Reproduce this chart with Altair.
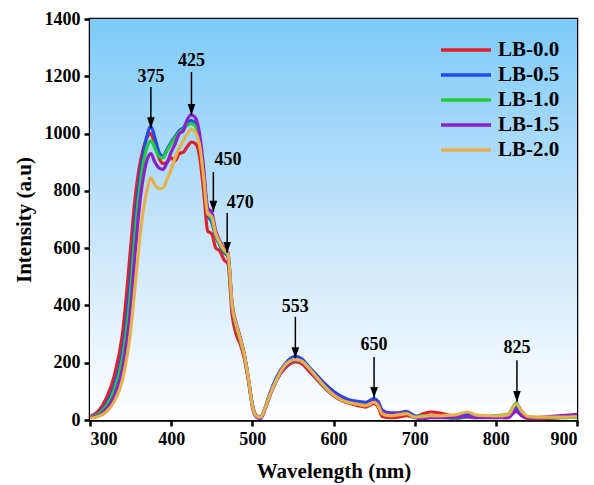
import altair as alt
import pandas as pd

wavelength = [300, 310, 320, 330, 340, 350, 355, 360, 365, 370, 375, 380, 385, 390, 395,
              400, 405, 410, 415, 420, 425, 430, 435, 440, 445, 450, 455, 460, 465, 470,
              475, 480, 485, 490, 495, 500, 505, 510, 515, 520, 530, 540, 553, 560, 570,
              580, 590, 600, 610, 620, 630, 640, 650, 655, 660, 670, 680, 690, 700, 710,
              720, 730, 740, 750, 765, 775, 790, 800, 815, 825, 832, 840, 860, 880, 900]

lb_00 = [12, 30, 75, 155, 300, 600, 760, 870, 940, 985, 1000, 960, 915, 895, 900,
         915, 905, 930, 935, 955, 970, 965, 920, 800, 660, 650, 600, 590, 560, 545,
         370, 300, 265, 215, 140, 55, 15, 12, 35, 75, 140, 180, 203, 198, 170,
         140, 110, 85, 68, 58, 50, 45, 58, 45, 12, 8, 10, 15, 10, 22,
         28, 25, 18, 15, 20, 15, 10, 10, 8, 35, 14, 5, 5, 8, 10]

lb_05 = [10, 22, 55, 120, 240, 500, 680, 820, 920, 990, 1025, 985, 935, 920, 945,
         970, 990, 1010, 1020, 1040, 1045, 1035, 980, 860, 720, 690, 640, 610, 585, 570,
         400, 330, 285, 230, 150, 55, 15, 10, 38, 80, 150, 195, 222, 215, 185,
         155, 125, 100, 82, 70, 65, 62, 75, 65, 35, 25, 25, 30, 15, 12,
         15, 12, 12, 15, 22, 14, 10, 10, 10, 45, 20, 8, 8, 10, 12]

lb_10 = [10, 20, 48, 105, 215, 450, 630, 780, 885, 950, 975, 950, 920, 915, 940,
         965, 985, 1005, 1015, 1030, 1035, 1025, 975, 860, 725, 700, 645, 615, 590, 575,
         400, 330, 280, 225, 145, 50, 13, 10, 35, 75, 140, 185, 208, 205, 178,
         145, 112, 88, 70, 60, 55, 52, 65, 55, 25, 18, 20, 25, 8, 15,
         10, 10, 8, 5, 10, 8, 12, 15, 20, 58, 30, 10, 8, 8, 10]

lb_15 = [8, 15, 38, 85, 180, 390, 560, 720, 835, 905, 930, 900, 880, 875, 900,
         935, 965, 1000, 1010, 1050, 1065, 1055, 1000, 880, 740, 725, 660, 625, 600, 585,
         410, 340, 290, 230, 145, 45, 10, 5, 32, 72, 140, 185, 210, 205, 178,
         145, 115, 90, 72, 62, 55, 52, 65, 55, 28, 20, 22, 25, 8, 5,
         8, 8, 8, 8, 12, 8, 8, 8, 8, 30, 15, 8, 10, 15, 20]

lb_20 = [6, 12, 28, 65, 140, 310, 450, 600, 720, 800, 845, 820, 808, 810, 840,
         875, 915, 950, 975, 1000, 1015, 1005, 960, 850, 720, 710, 650, 620, 595, 580,
         405, 335, 285, 228, 148, 50, 14, 10, 35, 75, 142, 190, 212, 207, 180,
         147, 115, 88, 70, 60, 55, 50, 62, 50, 22, 15, 18, 22, 10, 12,
         15, 14, 16, 18, 28, 18, 15, 14, 18, 55, 30, 12, 10, 10, 12]

series_names = ["LB-0.0", "LB-0.5", "LB-1.0", "LB-1.5", "LB-2.0"]
series_values = [lb_00, lb_05, lb_10, lb_15, lb_20]
series_colors = ["#e0202a", "#2448f0", "#22cc3a", "#8a22cc", "#e6b04a"]

ann_text = ["375", "425", "450", "470", "553", "650", "825"]
ann_x = [375, 425, 452, 469, 553, 650, 826]
ann_label_x = [375, 425, 470, 485, 553, 650, 826]
ann_label_y = [1196, 1252, 908, 758, 396, 262, 250]
ann_start_y = [1163, 1215, 866, 723, 360, 220, 209]
ann_tip_y = [1019, 1065, 727, 583, 216, 77, 63]

rows = []
for name, vals in zip(series_names, series_values):
    for w, v in zip(wavelength, vals):
        rows.append({"Wavelength": w, "Intensity": v, "Sample": name})
df = pd.DataFrame(rows)

ann = pd.DataFrame({"text": ann_text, "x": ann_x, "lx": ann_label_x, "ly": ann_label_y,
                    "y1": ann_start_y, "y2": ann_tip_y})

W, H = 487, 401
FONT = "Liberation Serif"

xscale = alt.Scale(domain=[300, 900], nice=False)
yscale = alt.Scale(domain=[0, 1400], nice=False)

bg = alt.Chart(pd.DataFrame({"a": [0]})).mark_rect(
    color=alt.Gradient(
        gradient="linear",
        stops=[alt.GradientStop(color="#7dcaf9", offset=0),
               alt.GradientStop(color="#c4e4fb", offset=0.5),
               alt.GradientStop(color="#ffffff", offset=1)],
        x1=0, x2=0, y1=0, y2=1),
).encode(x=alt.value(0), x2=alt.value(W), y=alt.value(0), y2=alt.value(H))

lines = alt.Chart(df).mark_line(strokeWidth=3.2, interpolate="monotone").encode(
    x=alt.X("Wavelength:Q", scale=xscale,
            axis=alt.Axis(values=[300, 400, 500, 600, 700, 800, 900], format="d",
                          title="Wavelength (nm)")),
    y=alt.Y("Intensity:Q", scale=yscale,
            axis=alt.Axis(values=[0, 200, 400, 600, 800, 1000, 1200, 1400], format="d",
                          title="Intensity (a.u)")),
    color=alt.Color("Sample:N", sort=series_names,
                    scale=alt.Scale(domain=series_names, range=series_colors),
                    legend=alt.Legend(title=None, orient="none", legendX=364, legendY=19,
                                      symbolType="M-2.5,0H2.5", symbolSize=400,
                                      symbolStrokeWidth=3.5, labelOffset=20,
                                      labelFont=FONT, labelFontSize=21, labelFontWeight="bold",
                                      labelColor="black", rowPadding=3, padding=0)),
    order=alt.Order("Wavelength:Q"),
)

stems = alt.Chart(ann).mark_rule(color="black", strokeWidth=1.5).encode(
    x=alt.X("x:Q", scale=xscale), y=alt.Y("y1:Q", scale=yscale), y2="y2:Q")

heads = alt.Chart(ann).mark_point(
    shape="M-0.35,-1L0.35,-1L0,0Z", size=484, filled=True, color="black", opacity=1
).encode(x=alt.X("x:Q", scale=xscale), y=alt.Y("y2:Q", scale=yscale))

labels = alt.Chart(ann).mark_text(
    font=FONT, fontSize=18, fontWeight="bold", color="black", baseline="middle", align="center"
).encode(x=alt.X("lx:Q", scale=xscale), y=alt.Y("ly:Q", scale=yscale), text="text:N")

chart = alt.layer(bg, lines, stems, heads, labels).properties(
    width=W, height=H,
    autosize=alt.AutoSizeParams(type="none"),
    padding={"left": 90, "top": 19, "right": 17, "bottom": 65},
    background="white",
).configure_view(
    stroke="black", strokeWidth=2.5
).configure_axis(
    labelFont=FONT, labelFontSize=18, labelFontWeight="bold", labelColor="black",
    titleFont=FONT, titleFontSize=21, titleFontWeight="bold", titleColor="black",
    domainColor="black", domainWidth=2.5, tickColor="black", tickWidth=2.5, tickSize=6,
    grid=False, labelPadding=4,
).configure_axisX(titlePadding=12).configure_axisY(titlePadding=10)

chart.save("out.html", embed_options={"renderer": "svg", "actions": False})
